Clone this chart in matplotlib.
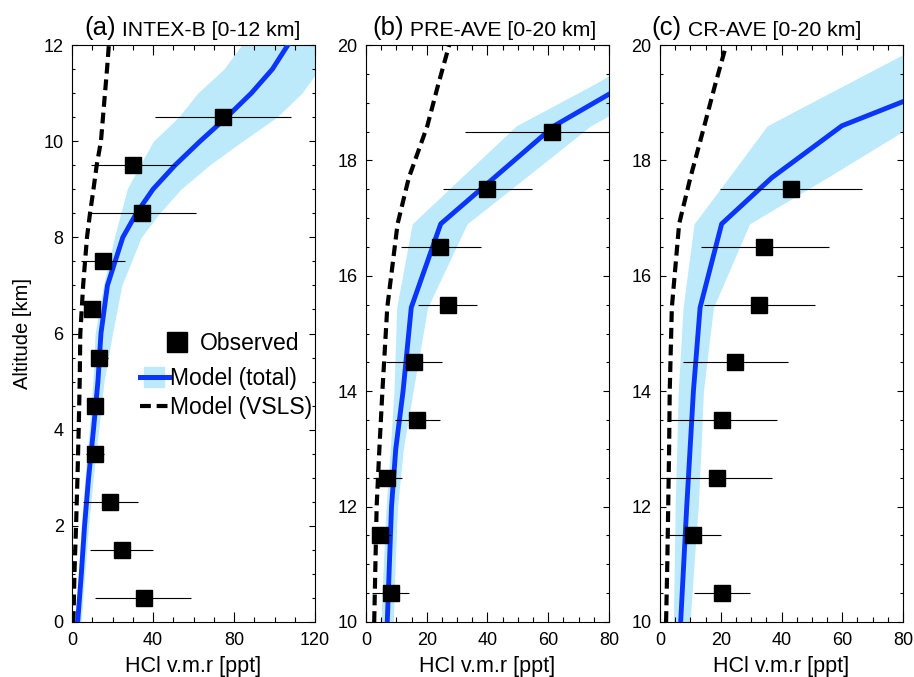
import matplotlib
matplotlib.use("Agg")
import matplotlib.pyplot as plt
from matplotlib.ticker import MultipleLocator
from matplotlib.lines import Line2D

plt.rcParams['font.family'] = ['Liberation Sans', 'DejaVu Sans']

# ---- (a) INTEX-B -------------------------------------------------------
a_alt = [0, 1, 2, 3, 4, 5, 6, 7, 8, 8.5, 9, 9.5, 10, 10.5, 11, 11.5, 12]
a_total = [2.8, 4.6, 6.2, 8.2, 10.6, 12.8, 14.3, 17.5, 25.1, 31.8, 40.0, 50.9,
           63.3, 76.4, 88.6, 99.0, 106.6]
a_low = [1.5, 3.2, 4.6, 6.4, 8.5, 10.3, 11.4, 15.5, 20.9, 24.1, 27.2, 33.5,
         40.2, 52.6, 62.1, 75.0, 83.8]
a_high = [4.5, 6.3, 8.2, 10.5, 13.2, 15.8, 20.0, 24.6, 34.2, 43.2, 53.8, 67.8,
          84.2, 101.2, 113.6, 122.0, 130.0]
a_vsls = [0.7, 1.2, 2.0, 2.7, 3.3, 3.8, 4.1, 5.5, 7.4, 8.9, 10.6, 12.2,
          14.3, 15.3, 16.3, 17.3, 18.2]
a_obs_alt = [0.5, 1.5, 2.5, 3.5, 4.5, 5.5, 6.5, 7.5, 8.5, 9.5, 10.5]
a_obs = [35.5, 24.8, 18.8, 11.2, 11.6, 13.2, 9.8, 15.2, 34.5, 30.0, 74.4]
a_obs_lo = [11.6, 8.9, 5.3, 7.0, 8.0, 9.4, 7.0, 4.5, 8.3, 9.4, 40.8]
a_obs_hi = [59.0, 40.0, 32.4, 16.0, 15.0, 17.7, 12.0, 26.3, 61.0, 51.0, 108.0]

# ---- (b) PRE-AVE -------------------------------------------------------
b_alt = [10, 11, 12, 13, 14, 15.45, 16.9, 17.7, 18.6, 19.3, 20]
b_total = [7.0, 7.7, 8.4, 9.8, 12.2, 14.9, 24.6, 42.2, 62.0, 85.0, 108.0]
b_low = [4.9, 5.7, 6.6, 8.0, 9.2, 10.1, 15.2, 31.3, 49.5, 74.4, 98.0]
b_high = [9.0, 9.6, 10.4, 12.3, 15.5, 20.3, 33.3, 52.5, 74.0, 98.0, 120.0]
b_vsls = [2.7, 3.1, 3.5, 4.4, 5.4, 7.0, 10.4, 14.1, 20.2, 23.7, 27.4]
b_obs_alt = [10.5, 11.5, 12.5, 13.5, 14.5, 15.5, 16.5, 17.5, 18.5]
b_obs = [8.1, 4.6, 6.8, 16.8, 15.7, 26.9, 24.5, 39.8, 61.1]
b_obs_lo = [1.9, 2.3, 2.3, 9.7, 6.6, 17.1, 11.4, 25.2, 32.5]
b_obs_hi = [14.2, 8.1, 12.0, 24.3, 25.0, 36.5, 37.9, 54.7, 80.0]

# ---- (c) CR-AVE --------------------------------------------------------
c_alt = [10, 11, 12, 13, 14, 15.45, 16.9, 17.7, 18.6, 19.3, 20]
c_total = [6.8, 7.8, 8.8, 9.9, 11.0, 13.2, 20.3, 36.8, 59.9, 93.5, 128.0]
c_low = [4.4, 4.7, 5.0, 5.5, 6.0, 7.6, 11.2, 22.6, 35.3, 60.6, 86.0]
c_high = [9.9, 11.2, 12.6, 13.5, 14.3, 17.6, 29.5, 55.0, 83.0, 105.0, 125.0]
c_vsls = [2.0, 2.4, 2.7, 3.0, 3.2, 3.9, 6.3, 10.0, 14.6, 18.1, 21.8]
c_obs_alt = [10.5, 11.5, 12.5, 13.5, 14.5, 15.5, 16.5, 17.5]
c_obs = [20.5, 11.0, 18.7, 20.5, 24.8, 32.7, 34.4, 43.1]
c_obs_lo = [11.2, 2.2, 0.5, 3.3, 7.7, 14.5, 13.5, 19.6]
c_obs_hi = [29.7, 20.1, 36.8, 38.5, 42.3, 50.9, 55.5, 66.5]

panel_tags = ['(a)', '(b)', '(c)']
panel_names = ['INTEX-B [0-12 km]', 'PRE-AVE [0-20 km]', 'CR-AVE [0-20 km]']

BAND = '#bdeafb'
LINE = '#0a35fa'
DASH = (0, (2.6, 1.4))

fig = plt.figure(figsize=(9.14, 6.77), dpi=100)
lefts = [72 / 914, 366 / 914, 660 / 914]
w, h = 243 / 914, 577 / 677
bottom = 55 / 677
title_x = [0.05, 0.025, -0.035]

panels = [
  (a_alt, a_total, a_low, a_high, a_vsls, a_obs_alt, a_obs, a_obs_lo, a_obs_hi, (0, 120), (0, 12), 40, 10),
  (b_alt, b_total, b_low, b_high, b_vsls, b_obs_alt, b_obs, b_obs_lo, b_obs_hi, (0, 80), (10, 20), 20, 5),
  (c_alt, c_total, c_low, c_high, c_vsls, c_obs_alt, c_obs, c_obs_lo, c_obs_hi, (0, 80), (10, 20), 20, 5),
]

for i, (alt, tot, lo, hi, vsls, oalt, obs, olo, ohi, xlim, ylim, xmaj, xmin) in enumerate(panels):
  ax = fig.add_axes([lefts[i], bottom, w, h])
  ax.fill_betweenx(alt, lo, hi, color=BAND, lw=0, zorder=1)
  ax.plot(vsls, alt, color='black', lw=3, ls=DASH, zorder=2)
  ax.plot(tot, alt, color=LINE, lw=3.5, zorder=3)
  ax.hlines(oalt, olo, ohi, color='black', lw=0.8, zorder=4)
  ax.plot(obs, oalt, 's', color='black', ms=12, zorder=5)

  ax.set_xlim(*xlim)
  ax.set_ylim(*ylim)
  ax.xaxis.set_major_locator(MultipleLocator(xmaj))
  ax.xaxis.set_minor_locator(MultipleLocator(xmin))
  ax.yaxis.set_major_locator(MultipleLocator(2))
  ax.yaxis.set_minor_locator(MultipleLocator(0.5))
  ax.tick_params(axis='both', which='both', direction='in', top=True, right=True,
                 labelsize=13, width=0.8)
  ax.tick_params(axis='x', which='major', length=7.5, pad=7)
  ax.tick_params(axis='x', which='minor', length=3.6)
  ax.tick_params(axis='y', which='major', length=4.5, pad=6)
  ax.tick_params(axis='y', which='minor', length=2.5)
  for s in ax.spines.values():
    s.set_linewidth(0.8)
  ax.set_xlabel('HCl v.m.r [ppt]', fontsize=15.5, labelpad=5)
  if i == 0:
    ax.set_ylabel('Altitude [km]', fontsize=14.5, labelpad=8)

  # two-size panel title
  t1 = ax.text(title_x[i], 1.018, panel_tags[i], transform=ax.transAxes,
               fontsize=18.5, ha='left', va='baseline')
  ax.annotate(' ' + panel_names[i], xy=(1, 0), xycoords=t1, fontsize=15.3,
              ha='left', va='bottom')

  if i == 0:
    obs_leg = ax.legend([Line2D([], [], ls='none', marker='s', color='black', ms=14.5)],
                        ['Observed'], loc='upper left', bbox_to_anchor=(0.372, 0.503),
                        frameon=False, fontsize=16.5, handlelength=1.25,
                        handletextpad=0.4, borderpad=0, borderaxespad=0)
    ax.add_artist(obs_leg)
    handles = [
      (Line2D([], [], ls='none', marker='s', color=BAND, ms=14.5),
       Line2D([], [], color=LINE, lw=3.6)),
      Line2D([], [], color='black', lw=3, ls=DASH),
    ]
    ax.legend(handles, ['Model (total)', 'Model (VSLS)'],
              loc='upper left', bbox_to_anchor=(0.28, 0.442), frameon=False,
              fontsize=16.5, handlelength=1.25, handletextpad=0.05,
              labelspacing=0.28, borderpad=0, borderaxespad=0)

fig.savefig('out.png', dpi=100)
